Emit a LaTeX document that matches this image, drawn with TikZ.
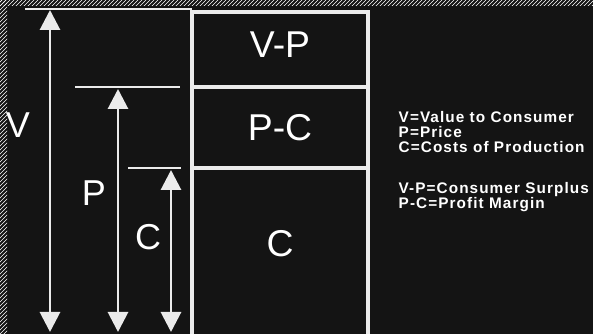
\documentclass[tikz,border=0pt]{standalone}
\usepackage{fontspec}
\setmainfont{Liberation Sans}
\newfontfamily\keyfont[LetterSpace=7]{Liberation Sans}
\usetikzlibrary{arrows.meta, positioning, patterns}

\begin{document}
\begin{tikzpicture}[
			x=0.75pt, y=-0.75pt,
			cell/.style={
				draw=white!92!black,
				line width=2.4pt,
				rectangle,
				outer sep=0pt,
				minimum width=132pt,
				text=white,
				font=\fontsize{28}{30}\selectfont
			},
			tick/.style={draw=white!92!black, line width=2.2pt},
			arrow/.style={{Triangle[length=15pt,width=15pt]}-{Triangle[length=15pt,width=15pt]}, draw=white!92!black, fill=white!92!black, line width=2.2pt},
			lbl/.style={text=white, font=\fontsize{27}{30}\selectfont},
			legend/.style={text=white, font=\keyfont\bfseries\fontsize{11.5}{11}\selectfont, align=left, anchor=north west}
			]
			
			\useasboundingbox (0,0) rectangle (593,334);
			\clip (0,0) rectangle (593,334);
			\fill[black!92] (0,0) rectangle (593,334);
			\fill[pattern=north east lines, pattern color=white] (0,0) rectangle (593,6);
			\fill[pattern=north east lines, pattern color=white] (0,0) rectangle (7,334);
			
			% cells of the price bar
			\node[cell, minimum height=56.25pt, text depth=8pt, anchor=north west] (vp) at (192,12) {V-P};
			\node[cell, minimum height=60.75pt, below=0pt of vp] (pc) {P-C};
			\node[cell, minimum height=127.5pt, text depth=15pt, below=0pt of pc] (c) {C};
			
			% end points
			\coordinate (vl) at (25,9);
			\coordinate (vr) at (192,9);
			\coordinate (pl) at (75,87);
			\coordinate (pr) at (180,87);
			\coordinate (cl) at (128,168);
			\coordinate (cr) at (181,168);
			\coordinate (vtop) at (50,10);
			\coordinate (vbot) at (50,332);
			\coordinate (ptop) at (118,89);
			\coordinate (pbot) at (118,332);
			\coordinate (ctop) at (171,170);
			\coordinate (cbot) at (171,332);
			
			\draw[tick] (vl) -- (vr);
			\draw[tick] (pl) -- (pr);
			\draw[tick] (cl) -- (cr);
			
			\draw[arrow] (vtop) -- (vbot);
			\draw[arrow] (ptop) -- (pbot);
			\draw[arrow] (ctop) -- (cbot);
			
			\node[lbl] (vlab) at (18,125) {V};
			\node[lbl] (plab) at (94,193) {P};
			\node[lbl] (clab) at (148,237) {C};
			
			\node[legend] (key) at (394,107) {V=Value to Consumer\\P=Price\\C=Costs of Production\\[20pt]V-P=Consumer Surplus\\P-C=Profit Margin};
			
		\end{tikzpicture}
\end{document}
